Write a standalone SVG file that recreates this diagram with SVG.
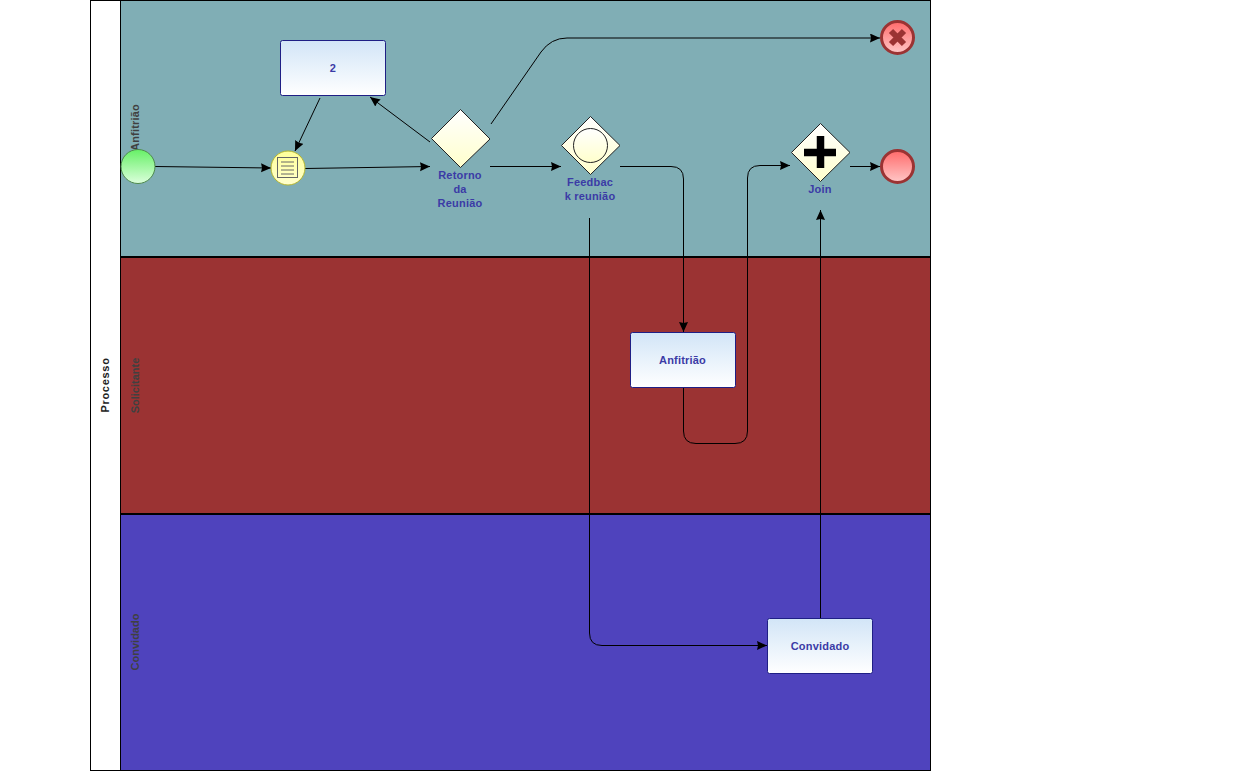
<svg xmlns="http://www.w3.org/2000/svg" width="1260" height="781" viewBox="0 0 1260 781">
<style>
text{font-family:"Liberation Sans",Arial,sans-serif;font-size:11px;font-weight:bold;text-anchor:middle}
.lbl{fill:#3b3ba6;letter-spacing:.2px}
.lane{stroke:#000;stroke-width:2}
.lt{fill:#404040}
.task{fill:url(#taskG);stroke:#1f1f85;stroke-width:1}
.dia{fill:url(#diaG);stroke:#222;stroke-width:1}
.c{fill:none;stroke:#000;stroke-width:1;marker-end:url(#arr)}
</style>
<defs>
<linearGradient id="taskG" x1="0" y1="0" x2="0" y2="1"><stop offset="0" stop-color="#d2e5f7"/><stop offset="1" stop-color="#ffffff"/></linearGradient>
<linearGradient id="diaG" x1="0" y1="0" x2="0" y2="1"><stop offset="0" stop-color="#ffffff"/><stop offset="1" stop-color="#ffffcc"/></linearGradient>
<linearGradient id="startG" x1="0" y1="0" x2="0" y2="1"><stop offset="0" stop-color="#66f066"/><stop offset="1" stop-color="#dcffdc"/></linearGradient>
<linearGradient id="endG" x1="0" y1="0" x2="0" y2="1"><stop offset="0" stop-color="#ff6a6a"/><stop offset="1" stop-color="#ffc8c8"/></linearGradient>
<linearGradient id="msgG" x1="0" y1="0" x2="0" y2="1"><stop offset="0" stop-color="#ffff99"/><stop offset="1" stop-color="#ffffcc"/></linearGradient>
<marker id="arr" markerUnits="userSpaceOnUse" markerWidth="11" markerHeight="10" refX="10" refY="4.5" orient="auto"><path d="M0 0L10 4.500L0 9L1 4.500Z" fill="#000"/></marker>
</defs>
<rect width="1260" height="781" fill="#fff"/>
<g id="pool">
<rect x="90.5" y="0.5" width="840" height="770" fill="#fff" stroke="#000"/>
<text transform="translate(108.500,385) rotate(-90)" fill="#222" letter-spacing=".7">Processo</text>
</g>
<g id="lane-anfitriao">
<rect x="120.5" y="0.5" width="810" height="256.500" fill="#80aeb5" stroke="#000"/>
<text transform="translate(139,127.500) rotate(-90)" class="lt" letter-spacing=".2">Anfitrião</text>
</g>
<g id="lane-solicitante">
<rect x="120.5" y="257" width="810" height="257" fill="#9b3333" stroke="#000"/>
<line x1="120" y1="257" x2="931" y2="257" class="lane"/>
<text transform="translate(139,385.500) rotate(-90)" class="lt">Solicitante</text>
</g>
<g id="lane-convidado">
<rect x="120.5" y="514" width="810" height="256.500" fill="#4f43bd" stroke="#000"/>
<line x1="120" y1="514" x2="931" y2="514" class="lane"/>
<text transform="translate(139,642) rotate(-90)" class="lt">Convidado</text>
</g>
<g id="connectors">
<path class="c" d="M155 166.500L271 168"/>
<path class="c" d="M305 168.500L430 166.500"/>
<path class="c" d="M430 142L370 97"/>
<path class="c" d="M320 98L295 151"/>
<path class="c" d="M491 124L541 52Q551 38 567 38L880 38"/>
<path class="c" d="M490 166.500L561 166.500"/>
<path class="c" d="M620 166.500L671 166.500Q683.500 166.500 683.500 179L683.500 332"/>
<path class="c" d="M683.500 388L683.500 431Q683.500 443.500 696 443.500L735 443.500Q747.500 443.500 747.500 431L747.500 178Q747.500 165.500 760 165.500L790 165.500"/>
<path class="c" d="M850 166.500L880 166.500"/>
<path class="c" d="M589.500 218L589.500 633Q589.500 645.500 602 645.500L767 645.500"/>
<path class="c" d="M820.500 618L820.500 210"/>
</g>
<g id="start">
<circle cx="138" cy="166.500" r="17" fill="url(#startG)" stroke="#4e8a4e"/>
</g>
<g id="message">
<circle cx="288" cy="168" r="17" fill="url(#msgG)" stroke="#b5b52e"/>
<rect x="277.500" y="157.500" width="20" height="20" fill="none" stroke="#666"/>
<path d="M281 162H294M281 166H294M281 170H294M281 174H294" stroke="#666" fill="none"/>
</g>
<g id="task-2">
<rect x="280.500" y="40.500" width="105" height="55" rx="2" class="task"/>
<text x="333" y="72" class="lbl">2</text>
</g>
<g id="gw-retorno">
<path d="M460.500 109.500L490 139L460.500 167.500L431.500 138.500Z" class="dia"/>
<text x="460" y="179" class="lbl">Retorno</text>
<text x="460" y="193" class="lbl">da</text>
<text x="460" y="207" class="lbl">Reunião</text>
</g>
<g id="gw-feedback">
<path d="M590.500 116.500L620 145.500L590.500 174.500L561.500 145.500Z" class="dia"/>
<circle cx="590.500" cy="145.500" r="17" fill="url(#diaG)" stroke="#222"/>
<text x="590" y="186" class="lbl">Feedbac</text>
<text x="590" y="200" class="lbl">k reunião</text>
</g>
<g id="gw-join">
<path d="M820.500 123.500L850 152.500L820.500 181.500L791.500 152.500Z" class="dia"/>
<path d="M820.500 136V168M804 152.500H836" stroke="#000" stroke-width="7.500" fill="none"/>
<text x="820" y="193" class="lbl">Join</text>
</g>
<g id="end-error">
<circle cx="897.500" cy="37.500" r="16" fill="url(#endG)" stroke="#9b3333" stroke-width="3"/>
<path d="M891 31L904 44M904 31L891 44" stroke="#9b3333" stroke-width="6" fill="none"/>
</g>
<g id="end">
<circle cx="897.500" cy="166.500" r="16" fill="url(#endG)" stroke="#9b3333" stroke-width="3"/>
</g>
<g id="task-anfitriao">
<rect x="630.500" y="332.500" width="105" height="55" rx="2" class="task"/>
<text x="682.500" y="364" class="lbl">Anfitrião</text>
</g>
<g id="task-convidado">
<rect x="767.500" y="618.500" width="105" height="55" rx="2" class="task"/>
<text x="820" y="650" class="lbl">Convidado</text>
</g>
</svg>
